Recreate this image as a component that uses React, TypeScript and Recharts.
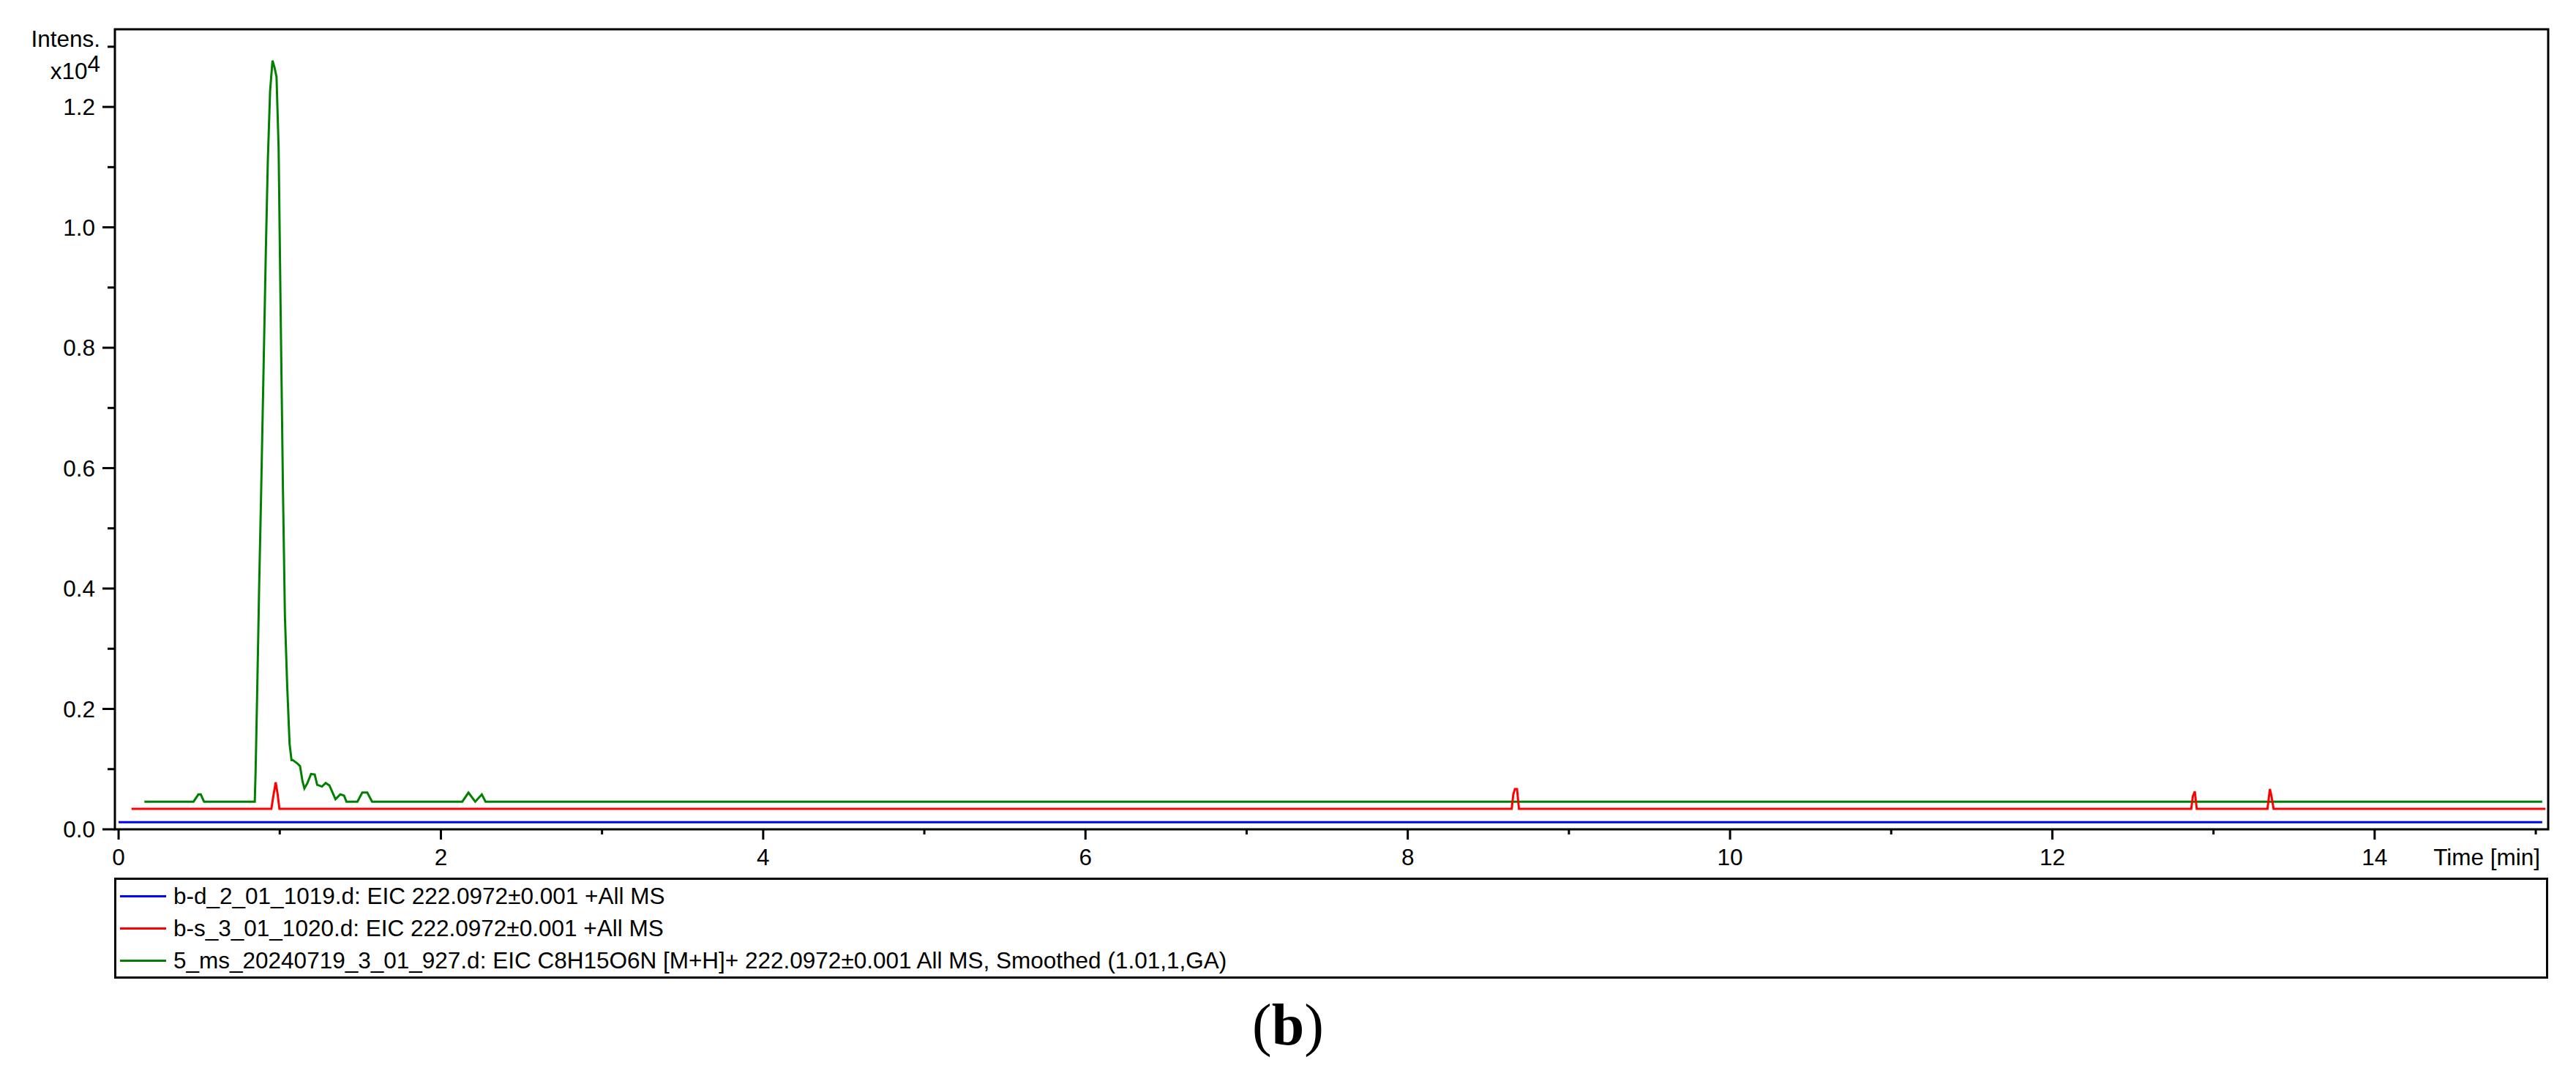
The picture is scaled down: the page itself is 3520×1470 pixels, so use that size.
import React from "react";
import { LineChart, Line, XAxis, YAxis, ReferenceArea, Legend } from "recharts";

const blueTime = [0, 15.04];
const blueIntensity = [0.012, 0.012];

const redTime = [
  0.08, 0.948, 0.962, 0.975, 0.987, 0.998, 8.645, 8.655, 8.665, 8.678, 8.69,
  12.862, 12.872, 12.884, 12.896, 13.335, 13.35, 13.36, 13.373, 15.06,
];
const redIntensity = [
  0.034, 0.034, 0.058, 0.078, 0.058, 0.034, 0.034, 0.058, 0.067, 0.067, 0.034,
  0.034, 0.055, 0.063, 0.034, 0.034, 0.067, 0.055, 0.034, 0.034,
];

const greenTime = [
  0.16, 0.465, 0.495, 0.51, 0.53, 0.845, 0.85, 0.86, 0.872, 0.884, 0.899,
  0.914, 0.926, 0.94, 0.955, 0.968, 0.98, 0.993, 1.005, 1.02, 1.032, 1.046,
  1.061, 1.073, 1.081, 1.111, 1.126, 1.141, 1.153, 1.172, 1.194, 1.217, 1.232,
  1.262, 1.285, 1.308, 1.323, 1.346, 1.376, 1.399, 1.414, 1.482, 1.512, 1.543,
  1.573, 2.133, 2.171, 2.213, 2.254, 2.277, 15.04,
];
const greenIntensity = [
  0.046, 0.046, 0.058, 0.058, 0.046, 0.046, 0.094, 0.227, 0.401, 0.552, 0.757,
  0.965, 1.11, 1.226, 1.277, 1.265, 1.25, 1.132, 0.871, 0.564, 0.355, 0.24,
  0.142, 0.115, 0.115, 0.109, 0.105, 0.08, 0.068, 0.077, 0.092, 0.091, 0.074,
  0.071, 0.077, 0.073, 0.064, 0.05, 0.058, 0.056, 0.046, 0.046, 0.061, 0.061,
  0.046, 0.046, 0.061, 0.046, 0.058, 0.046, 0.046,
];

const seriesNames = [
  "b-d_2_01_1019.d: EIC 222.0972±0.001 +All MS",
  "b-s_3_01_1020.d: EIC 222.0972±0.001 +All MS",
  "5_ms_20240719_3_01_927.d: EIC C8H15O6N [M+H]+ 222.0972±0.001 All MS, Smoothed (1.01,1,GA)",
];
const seriesColors = ["#0000ff", "#ff0000", "#008000"];

const xTicks = [0, 1, 2, 3, 4, 5, 6, 7, 8, 9, 10, 11, 12, 13, 14, 15];
const xLabelTicks = [0, 2, 4, 6, 8, 10, 12, 14];
const yTicks = [0, 0.1, 0.2, 0.3, 0.4, 0.5, 0.6, 0.7, 0.8, 0.9, 1.0, 1.1, 1.2, 1.3];
const yLabelTicks = [0, 0.2, 0.4, 0.6, 0.8, 1.0, 1.2];
const xDomain = [-0.023, 15.077];
const yDomain = [0, 1.329];

const FONT = "'Liberation Sans', Arial, sans-serif";
const FONT_SIZE = 31.5;

const toPoints = (t: number[], v: number[]) =>
  t.map((time, i) => ({ time, value: v[i] }));

const blueData = toPoints(blueTime, blueIntensity);
const redData = toPoints(redTime, redIntensity);
const greenData = toPoints(greenTime, greenIntensity);

const XTick = (props: any) => {
  const { x, y, payload } = props;
  const v = payload.value;
  const major = xLabelTicks.includes(v);
  return (
    <g>
      <line x1={x} x2={x} y1={y} y2={y + (major ? 14 : 7)} stroke="#000" strokeWidth={3} />
      {major && (
        <text x={x} y={y + 49} textAnchor="middle" fontSize={FONT_SIZE} fontFamily={FONT} fill="#000">
          {v}
        </text>
      )}
      {v === 15 && (
        <text x={x + 6} y={y + 49} textAnchor="end" fontSize={FONT_SIZE} fontFamily={FONT} fill="#000">
          Time [min]
        </text>
      )}
    </g>
  );
};

const YTick = (props: any) => {
  const { x, y, payload } = props;
  const v = payload.value;
  const major = yLabelTicks.some((t) => Math.abs(t - v) < 1e-6);
  return (
    <g>
      <line x1={x} x2={x - (major ? 17 : 10)} y1={y} y2={y} stroke="#000" strokeWidth={3} />
      {major && (
        <text x={x - 27} y={y + 11} textAnchor="end" fontSize={FONT_SIZE} fontFamily={FONT} fill="#000">
          {v.toFixed(1)}
        </text>
      )}
    </g>
  );
};

// Legenda nel riquadro sotto il grafico, nello stesso ordine dell'originale
const renderLegend = (props: any) => {
  const items = [...(props.payload ?? [])].sort(
    (a: any, b: any) => seriesNames.indexOf(a.value) - seriesNames.indexOf(b.value),
  );
  return (
    <div
      style={{
        boxSizing: "border-box",
        width: 3326,
        height: 138,
        border: "3px solid #000",
        background: "#fff",
        fontFamily: FONT,
        fontSize: FONT_SIZE,
        color: "#000",
      }}
    >
      {items.map((item: any) => (
        <div key={item.value} style={{ display: "flex", alignItems: "center", height: 44, lineHeight: "44px" }}>
          <div style={{ width: 63, height: 3, background: item.color, marginLeft: 5, marginRight: 10 }} />
          <span style={{ whiteSpace: "nowrap" }}>{item.value}</span>
        </div>
      ))}
    </div>
  );
};

const App: React.FC = () => {
  return (
    <div style={{ position: "absolute", left: 0, top: 0, width: 3520, height: 1470, background: "#fff" }}>
      <LineChart
        width={3520}
        height={1470}
        margin={{ top: 40, right: 38, left: 0, bottom: 277 }}
      >
        <XAxis
          dataKey="time"
          type="number"
          domain={xDomain}
          ticks={xTicks}
          interval={0}
          allowDataOverflow
          axisLine={false}
          tickLine={false}
          tickSize={0}
          tickMargin={0}
          height={60}
          tick={(p: any) => <XTick {...p} />}
        />
        <YAxis
          type="number"
          domain={yDomain}
          ticks={yTicks}
          interval={0}
          allowDataOverflow
          axisLine={false}
          tickLine={false}
          tickSize={0}
          tickMargin={0}
          width={157}
          tick={(p: any) => <YTick {...p} />}
        />
        <ReferenceArea
          x1={xDomain[0]}
          x2={xDomain[1]}
          y1={yDomain[0]}
          y2={yDomain[1]}
          fill="none"
          fillOpacity={0}
          stroke="#000"
          strokeWidth={3}
          ifOverflow="visible"
        />
        <Line
          data={blueData}
          dataKey="value"
          name={seriesNames[0]}
          stroke={seriesColors[0]}
          strokeWidth={3}
          type="linear"
          dot={false}
          isAnimationActive={false}
        />
        <Line
          data={greenData}
          dataKey="value"
          name={seriesNames[2]}
          stroke={seriesColors[2]}
          strokeWidth={3}
          type="linear"
          dot={false}
          isAnimationActive={false}
        />
        <Line
          data={redData}
          dataKey="value"
          name={seriesNames[1]}
          stroke={seriesColors[1]}
          strokeWidth={3}
          type="linear"
          dot={false}
          isAnimationActive={false}
        />
        <Legend
          layout="horizontal"
          verticalAlign="middle"
          align="center"
          wrapperStyle={{ left: 156, top: 1199, width: 3326, height: 138 }}
          content={renderLegend}
        />
      </LineChart>
      <svg
        width={3520}
        height={1470}
        style={{ position: "absolute", left: 0, top: 0, pointerEvents: "none" }}
      >
        <text x={137} y={64} textAnchor="end" fontSize={FONT_SIZE} fontFamily={FONT} fill="#000">
          Intens.
        </text>
        <text x={137} y={108} textAnchor="end" fontSize={FONT_SIZE} fontFamily={FONT} fill="#000">
          x10<tspan dy={-10}>4</tspan>
        </text>
        <text x={1760} y={1427} textAnchor="middle" fontSize={80} fontFamily="'Liberation Serif', 'Times New Roman', serif" fill="#000">
          (<tspan fontWeight="bold">b</tspan>)
        </text>
      </svg>
    </div>
  );
};

export default App;
